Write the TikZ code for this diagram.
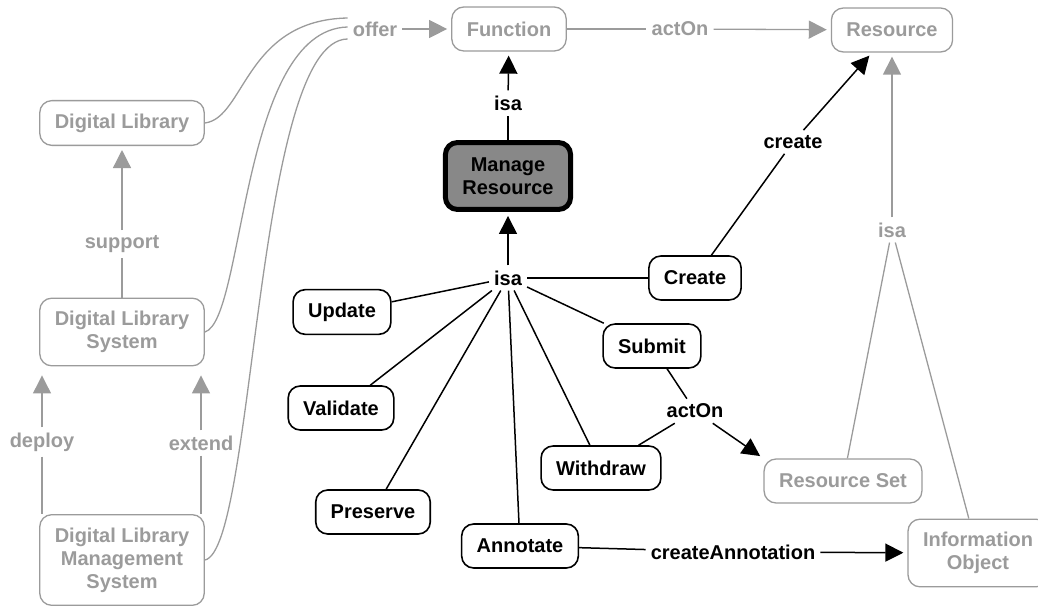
\documentclass[tikz,border=0pt]{standalone}
\usepackage{fontspec}
\setmainfont{Liberation Sans}
\usetikzlibrary{arrows.meta}
\definecolor{cmgray}{RGB}{155,155,155}
\definecolor{mrfill}{RGB}{136,136,136}
\tikzset{
  concept/.style={draw=black,line width=1.6pt,rounded corners=12pt,align=center,
    inner xsep=15pt,inner ysep=13pt,minimum height=44pt,fill=white},
  grayconcept/.style={concept,draw=cmgray,text=cmgray,line width=1.3pt},
  phrase/.style={inner sep=5pt,align=center},
  grayphrase/.style={phrase,text=cmgray},
  cline/.style={line width=1.5pt},
  gline/.style={draw=cmgray,line width=1.3pt},
  arr/.style={-{Triangle[length=18pt,width=18pt]},shorten >=4pt},
}
\begin{document}
\begin{tikzpicture}[x=1pt,y=-1pt,font=\fontsize{20}{23}\selectfont\bfseries]
\useasboundingbox (0,0) rectangle (1038,609);

% concepts
\node[grayconcept] (func) at (509,29) {Function};
\node[grayconcept] (res) at (892,30) {Resource};
\node[grayconcept] (dl) at (122,123) {Digital Library};
\node[grayconcept] (dls) at (122,332) {Digital Library\\System};
\node[grayconcept] (dlms) at (122,560) {Digital Library\\Management\\System};
\node[grayconcept] (rset) at (843,481) {Resource Set};
\node[grayconcept] (info) at (978,553) {Information\\Object};

\node[concept,fill=mrfill,line width=5pt,inner xsep=17pt,inner ysep=15pt] (mr) at (508,176) {Manage\\Resource};
\node[concept] (create) at (695,278) {Create};
\node[concept] (update) at (342,312) {Update};
\node[concept] (submit) at (652,346) {Submit};
\node[concept] (validate) at (341,408) {Validate};
\node[concept] (withdraw) at (601,468) {Withdraw};
\node[concept] (preserve) at (373,512) {Preserve};
\node[concept] (annotate) at (520,546) {Annotate};

% linking phrases
\node[grayphrase] (offer) at (375,29) {offer};
\node[grayphrase] (acton1) at (680,29) {actOn};
\node[grayphrase] (support) at (122,244) {support};
\node[grayphrase] (deploy) at (42,442) {deploy};
\node[grayphrase] (extend) at (201,443) {extend};
\node[grayphrase] (isa3) at (892,230) {isa};

\node[phrase] (isa1) at (508,103) {isa};
\node[phrase] (isa2) at (508,278) {isa};
\node[phrase] (lcreate) at (793,142) {create};
\node[phrase] (acton2) at (695,411) {actOn};
\node[phrase] (crann) at (733,552) {createAnnotation};

% gray links
\draw[gline] (dl.east) .. controls (245,118) and (245,20) .. ([yshift=11pt]offer.west);
\draw[gline] (dls.east) .. controls (245,320) and (240,30) .. ([yshift=2pt]offer.west);
\draw[gline] (dlms.east) .. controls (255,550) and (255,40) .. ([yshift=-10pt]offer.west);
\draw[gline,arr] (offer) -- (func);
\draw[gline] (func) -- (acton1);
\draw[gline,arr] (acton1) -- (res);
\draw[gline] (dls) -- (support);
\draw[gline,arr] (support) -- (dl);
\draw[gline] (deploy) -- (deploy |- dlms.north);
\draw[gline,arr,shorten >=9pt] (deploy) -- (deploy |- dls.south);
\draw[gline] (extend) -- (extend |- dlms.north);
\draw[gline,arr,shorten >=9pt] (extend) -- (extend |- dls.south);
\draw[gline,arr] (isa3) -- (res);
\draw[gline] (rset) -- (isa3);
\draw[gline] (info) -- (isa3);

% black links
\draw[cline] (mr) -- (isa1);
\draw[cline,arr] (isa1) -- (func);
\draw[cline,arr] (isa2) -- (mr);
\foreach \n in {create,update,submit,validate,withdraw,preserve,annotate}
  \draw[cline] (isa2) -- (\n);
\draw[cline] (create) -- (lcreate);
\draw[cline,arr] (lcreate) -- (res);
\draw[cline] (submit) -- (acton2);
\draw[cline] (withdraw) -- (acton2);
\draw[cline,arr] (acton2) -- (rset.north west);
\draw[cline] (annotate) -- (crann);
\draw[cline,arr] (crann) -- (info);

\end{tikzpicture}
\end{document}
